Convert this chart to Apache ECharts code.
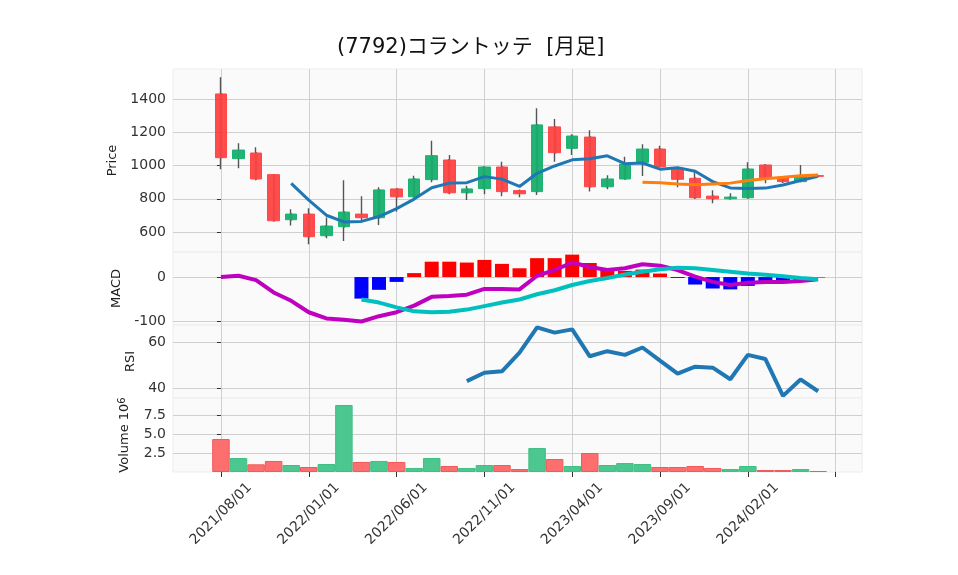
<!DOCTYPE html>
<html>
<head>
<meta charset="utf-8">
<script src="https://cdn.jsdelivr.net/npm/echarts@6/dist/echarts.min.js"></script>
<style>
  html, body { margin: 0; padding: 0; background: #fff; }
  #chart { width: 958px; height: 575px; }
</style>
</head>
<body>
<div id="chart"></div>
<script>
// 月足データ (2021/08 - 2024/06)
const dates = ['2021/08/01','2021/09/01','2021/10/01','2021/11/01','2021/12/01','2022/01/01','2022/02/01',
  '2022/03/01','2022/04/01','2022/05/01','2022/06/01','2022/07/01','2022/08/01','2022/09/01','2022/10/01',
  '2022/11/01','2022/12/01','2023/01/01','2023/02/01','2023/03/01','2023/04/01','2023/05/01','2023/06/01',
  '2023/07/01','2023/08/01','2023/09/01','2023/10/01','2023/11/01','2023/12/01','2024/01/01','2024/02/01',
  '2024/03/01','2024/04/01','2024/05/01','2024/06/01'];
const opens  = [1430,1041,1075,945,674,708,578,632,708,686,859,812,915,1033,836,861,991,849,843,1232,1103,1171,872,919,1019,1099,983,923,816,800,806,1003,927,903,939];
const closes = [1047,1093,919,668,708,572,636,720,686,853,812,919,1059,836,859,991,843,830,1244,1077,1177,872,919,1009,1099,993,917,806,800,810,979,925,903,931,935];
const lows   = [977,983,911,665,640,526,562,546,662,642,722,810,899,827,792,827,815,809,823,1023,1063,843,857,915,937,990,869,798,773,796,800,893,895,899,933];
const highs  = [1530,1133,1109,948,737,743,688,911,815,869,862,939,1149,1063,878,995,1023,855,1344,1280,1188,1212,941,1053,1127,1119,986,959,851,833,1019,1005,931,1003,941];
const volumes = [4.34,1.84,1.01,1.45,0.92,0.66,1.05,8.82,1.32,1.45,1.32,0.53,1.84,0.79,0.53,0.92,0.92,0.39,3.16,1.71,0.79,2.5,0.92,1.18,1.05,0.66,0.66,0.79,0.53,0.39,0.79,0.26,0.26,0.39,0.13];

// 移動平均 (5ヶ月: idx 4〜, 25ヶ月: idx 24〜)
const ma5Start = 4;
const ma5 = [893,792,701,661,664,693,741,798,866,894,897,933,918,874,953,997,1034,1040,1058,1011,1015,978,987,965,903,865,862,864,883,910,935];
const ma25Start = 24;
const ma25 = [900,896,889,884,889,894,910,921,929,939,943];

// MACD (idx 0〜), シグナル・ヒストグラム (idx 8〜)
const macd = [0,3,-7,-35,-54,-80,-94,-97,-101,-89,-80,-65,-45,-43,-40,-27,-27,-28,3,16,33,23,16,20,29,26,16,1,-11,-18,-13,-11,-11,-9,-5];
const sigStart = 8;
const signal = [-51,-58,-69,-78,-80,-79,-74,-66,-58,-51,-39,-30,-18,-9,-2,6,12,18,21,20,16,12,8,5,2,-2,-5];
const hist = [-49,-29,-11,9,35,35,33,39,30,20,43,43,51,32,18,14,17,8,-2,-17,-26,-28,-20,-15,-12,-7,-1];

// RSI (idx 14〜)
const rsiStart = 14;
const rsi = [43.2,46.8,47.4,55.5,66.4,64.1,65.5,53.9,56.1,54.5,57.7,52.0,46.4,49.4,49.0,44.0,54.5,52.7,36.8,43.9,38.8];

const dateTicks = [0, 5, 10, 15, 20, 25, 30, 35];

const UP = '#17b06e', DOWN = '#fe4343';
const UP_VOL = '#4bc78f', DOWN_VOL = '#fd6e6e';
const FONT = 'DejaVu Sans, Noto Sans CJK JP, sans-serif';

const idx = dates.map((d, i) => i);
const wickData = idx.map(i => [i, opens[i], closes[i], lows[i], highs[i]]);
const bodyData = idx.map(i => [i, opens[i], closes[i], Math.min(opens[i], closes[i]), Math.max(opens[i], closes[i])]);
const withStart = (arr, s) => arr.map((v, k) => [s + k, v]);

const chart = echarts.init(document.getElementById('chart'));

const grids = [
  { left: 173, right: 96, top: 69, height: 183 },
  { left: 173, right: 96, top: 252, height: 73 },
  { left: 173, right: 96, top: 325, height: 73 },
  { left: 173, right: 96, top: 398, height: 74 }
].map(g => Object.assign(g, { show: true, backgroundColor: '#fafafa', borderColor: '#ececec', borderWidth: 1 }));

const xAxes = grids.map((g, gi) => ({
  type: 'value', gridIndex: gi, min: -2.73, max: 36.5,
  axisLine: { show: false },
  axisTick: { show: gi === 3, customValues: dateTicks, length: 5, lineStyle: { color: '#333' } },
  axisLabel: {
    show: gi === 3, customValues: dateTicks, rotate: 45, margin: 42,
    align: 'center', verticalAlign: 'middle',
    color: '#333', fontSize: 14, fontFamily: FONT,
    formatter: v => dates[v] || ''
  },
  splitLine: { show: true, lineStyle: { color: '#d0d0d0', width: 1 } }
}));

function yAxis(gi, min, max, ticks, name, gap, fmt) {
  return {
    type: 'value', gridIndex: gi, min: min, max: max,
    name: name, nameLocation: 'middle', nameGap: gap,
    nameTextStyle: { color: '#222', fontSize: 13, fontFamily: FONT,
      rich: { sup: { fontSize: 10, verticalAlign: 'top', padding: [0, 0, 6, 0], color: '#222', fontFamily: FONT } } },
    axisLine: { show: false },
    axisTick: { show: true, customValues: ticks, length: 4, lineStyle: { color: '#333' } },
    axisLabel: { customValues: ticks, color: '#333', fontSize: 14, fontFamily: FONT, margin: 7,
      formatter: fmt || (v => String(v)) },
    splitLine: { show: true, lineStyle: { color: '#cfcfcf', width: 1 } }
  };
}

const option = {
  backgroundColor: '#fff',
  animation: false,
  title: {
    text: '(7792)コラントッテ  [月足]', left: 332, top: 32,
    textStyle: { fontSize: 21, fontWeight: 'normal', color: '#111', fontFamily: FONT }
  },
  grid: grids,
  xAxis: xAxes,
  yAxis: [
    yAxis(0, 480, 1580, [600, 800, 1000, 1200, 1400], 'Price', 50),
    yAxis(1, -109, 57, [-100, 0], 'MACD', 50),
    yAxis(2, 35.9, 67.4, [40, 60], 'RSI', 36),
    yAxis(3, 0, 9.74, [2.5, 5, 7.5], 'Volume 10{sup|6}', 40, v => v.toFixed(1))
  ],
  series: [
    {
      type: 'candlestick', xAxisIndex: 0, yAxisIndex: 0, barWidth: 1.4,
      data: wickData, encode: { x: 0, y: [1, 2, 3, 4] },
      itemStyle: { color: '#555', color0: '#555', borderColor: '#555', borderColor0: '#555', borderWidth: 1.4 }
    },
    {
      type: 'candlestick', xAxisIndex: 0, yAxisIndex: 0, barWidth: 12,
      data: bodyData, encode: { x: 0, y: [1, 2, 3, 4] },
      itemStyle: { color: UP, color0: DOWN, borderColor: UP, borderColor0: DOWN, borderWidth: 1, opacity: 0.95 }
    },
    {
      type: 'line', xAxisIndex: 0, yAxisIndex: 0, data: withStart(ma5, ma5Start),
      showSymbol: false, lineStyle: { color: '#1f77b4', width: 3 }
    },
    {
      type: 'line', xAxisIndex: 0, yAxisIndex: 0, data: withStart(ma25, ma25Start),
      showSymbol: false, lineStyle: { color: '#ff7f0e', width: 3 }
    },
    {
      type: 'bar', xAxisIndex: 1, yAxisIndex: 1, barWidth: 14,
      data: withStart(hist, sigStart).map(p => ({ value: p, itemStyle: { color: p[1] >= 0 ? '#ff0000' : '#0000ff' } }))
    },
    {
      type: 'line', xAxisIndex: 1, yAxisIndex: 1, data: withStart(macd, 0),
      showSymbol: false, lineStyle: { color: '#bf00bf', width: 4 }
    },
    {
      type: 'line', xAxisIndex: 1, yAxisIndex: 1, data: withStart(signal, sigStart),
      showSymbol: false, lineStyle: { color: '#00bfbf', width: 4 }
    },
    {
      type: 'line', xAxisIndex: 2, yAxisIndex: 2, data: withStart(rsi, rsiStart),
      showSymbol: false, lineStyle: { color: '#1f77b4', width: 4 }
    },
    {
      type: 'bar', xAxisIndex: 3, yAxisIndex: 3, barWidth: 17.5,
      data: idx.map(i => ({
        value: [i, volumes[i]],
        itemStyle: {
          color: closes[i] >= opens[i] ? UP_VOL : DOWN_VOL,
          borderColor: closes[i] >= opens[i] ? '#3fbf86' : '#f25a5a', borderWidth: 1
        }
      }))
    }
  ]
};

chart.setOption(option);
</script>
</body>
</html>
